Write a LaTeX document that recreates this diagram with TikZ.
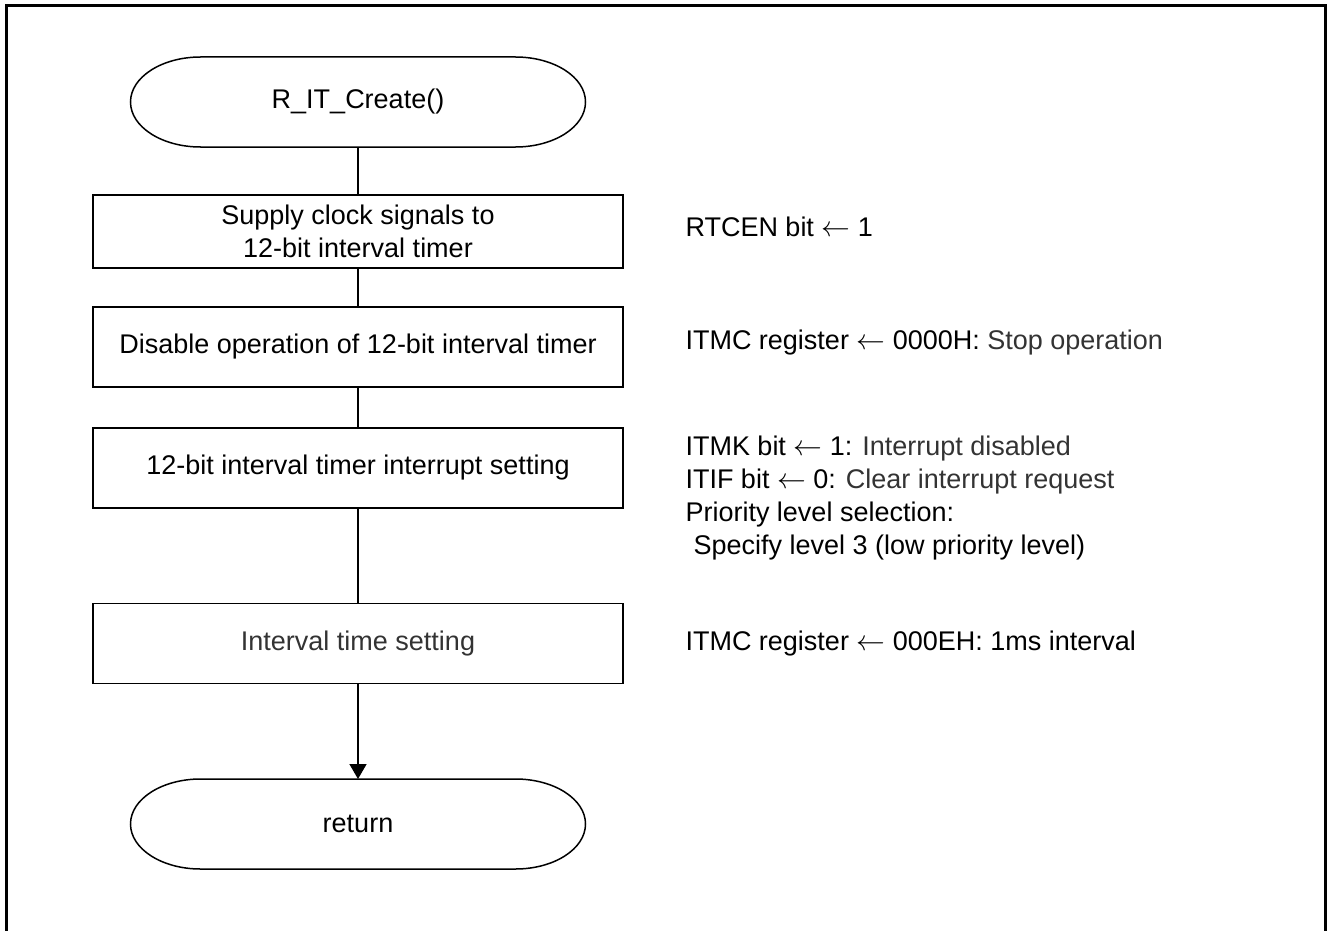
\documentclass[tikz,border=0pt]{standalone}
\usepackage{fontspec}
\setmainfont{Liberation Sans}
\usetikzlibrary{positioning}
\usetikzlibrary{arrows.meta}

\definecolor{softtext}{gray}{0.2}

\tikzstyle{block}=[
   rectangle,
   draw=black,
   line width=0.75pt,
   align=center,
   minimum width=265pt,
   minimum height=40pt
]
\tikzstyle{terminal}=[
   rectangle,
   outer sep=0pt,
   minimum width=227.5pt,
   minimum height=45pt
]
\tikzstyle{note}=[
   align=left,
   inner sep=0pt
]

\begin{document}
\begin{tikzpicture}[x=0.5pt,y=-0.5pt,>={Triangle[length=7.5pt,width=8.5pt]},line width=0.75pt,node distance=60pt,font=\fontsize{13.5}{16.5}\selectfont]

  \useasboundingbox (0,0) rectangle (1327,931);
  % outer frame, open at the bottom
  \draw[line width=1.5pt] (6,931) -- (6,6) -- (1325,6) -- (1325,931);

  \node[terminal] (start) at (358,102) {R\_IT\_Create()};
  \node[block,minimum height=36.5pt] (clk) [below of=start, yshift=-4.75pt] {Supply clock signals to\\12-bit interval timer};
  \node[block] (stop) [below of=clk, yshift=2.25pt] {Disable operation of 12-bit interval timer};
  \node[block] (intr) [below of=stop, yshift=-0.5pt] {12-bit interval timer interrupt setting};
  \node[block] (ivl)  [below of=intr, yshift=-27.75pt] {\textcolor{softtext}{Interval time setting}};
  \node[terminal] (ret) [below of=ivl, yshift=-30.25pt] {return};

  \node[note] (clknote)  [right=30.5pt of clk, yshift=2.25pt] {RTCEN bit $\leftarrow$ 1};
  \node[note] (stopnote) [right=30.5pt of stop, yshift=2pt] {ITMC register $\leftarrow$ 0000H: \textcolor{softtext}{Stop operation}};
  \node[note] (intrnote) [right=30.5pt of intr, yshift=-15.25pt] {ITMK bit $\leftarrow$ 1: \textcolor{softtext}{Interrupt disabled}\\ITIF bit $\leftarrow$ 0: \textcolor{softtext}{Clear interrupt request}\\Priority level selection:\\\hspace*{0.3em}Specify level 3 (low priority level)};
  \node[note] (ivlnote)  [right=30.5pt of ivl] {ITMC register $\leftarrow$ 000EH: 1ms interval};

  % terminal outlines with elliptic ends
  \foreach \nd in {start,ret}
    \draw ([xshift=35pt]\nd.north west) -- ([xshift=-35pt]\nd.north east)
      arc[start angle=90, end angle=-90, x radius=35pt, y radius=22.5pt]
      -- ([xshift=35pt]\nd.south west)
      arc[start angle=270, end angle=90, x radius=35pt, y radius=22.5pt] -- cycle;

  \path (start) edge (clk)
        (clk)   edge (stop)
        (stop)  edge (intr)
        (intr)  edge (ivl);
  \draw[->] (ivl) -- (ret);

\end{tikzpicture}
\end{document}
